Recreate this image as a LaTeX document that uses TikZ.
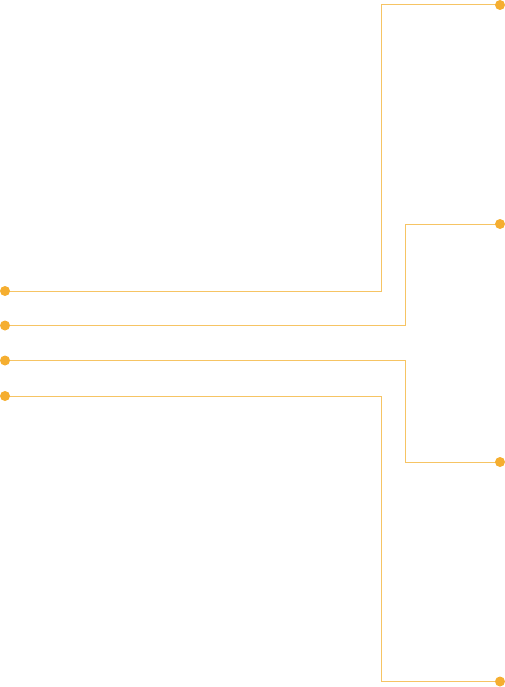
\documentclass[tikz,border=0pt]{standalone}
\usetikzlibrary{backgrounds}
\definecolor{dotc}{RGB}{245,174,48}
\definecolor{linec}{RGB}{246,196,100}
\begin{document}
\begin{tikzpicture}[x=1pt,y=-1pt,
  dotn/.style={circle,fill=dotc,inner sep=0pt,minimum size=10pt},
  conn/.style={draw=linec,line width=1pt}]
\useasboundingbox (0,0) rectangle (505,687);
\node[dotn] (l1) at (5,291) {};
\node[dotn] (l2) at (5,325.5) {};
\node[dotn] (l3) at (5,360.5) {};
\node[dotn] (l4) at (5,396) {};
\node[dotn] (r1) at (500,5) {};
\node[dotn] (r2) at (500,224) {};
\node[dotn] (r3) at (500,462) {};
\node[dotn] (r4) at (500,681.5) {};
\begin{scope}[on background layer]
\draw[conn] (l1.center) -| (381,0 |- r1.center) -- (r1.center);
\draw[conn] (l2.center) -| (405,0 |- r2.center) -- (r2.center);
\draw[conn] (l3.center) -| (405,0 |- r3.center) -- (r3.center);
\draw[conn] (l4.center) -| (381,0 |- r4.center) -- (r4.center);
\end{scope}
\end{tikzpicture}
\end{document}
